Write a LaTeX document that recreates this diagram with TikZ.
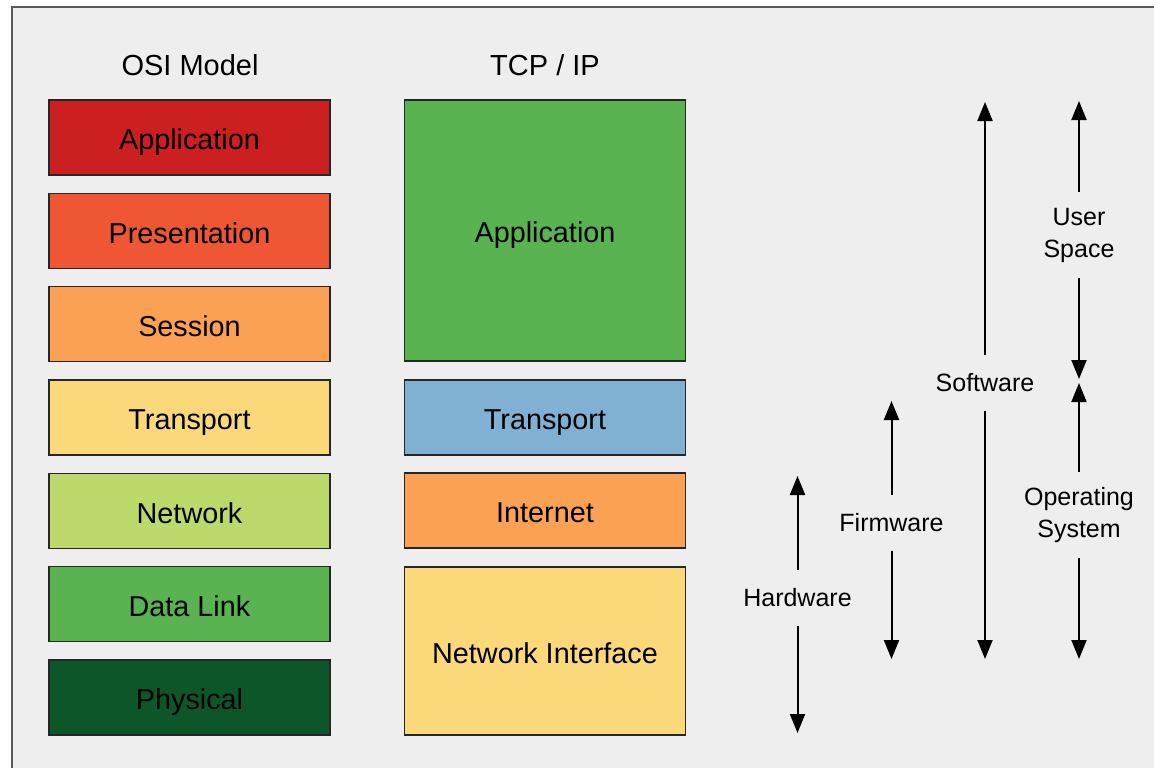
\documentclass[tikz,border=0pt]{standalone}
\usepackage{fontspec}
\setmainfont{Liberation Sans}
\usetikzlibrary{arrows.meta}

\definecolor{osiapp}{HTML}{CC1F20}
\definecolor{osipres}{HTML}{EF5634}
\definecolor{osisess}{HTML}{FBA153}
\definecolor{ositrans}{HTML}{FBD97B}
\definecolor{osinet}{HTML}{BDD86B}
\definecolor{osilink}{HTML}{5AB351}
\definecolor{osiphys}{HTML}{0C5629}
\definecolor{tcpapp}{HTML}{59B351}
\definecolor{tcptrans}{HTML}{80B1D3}
\definecolor{paper}{HTML}{EEEEEE}

\begin{document}
\begin{tikzpicture}[x=1pt,y=-1pt,
    layer/.style = {rectangle,draw=black!85,line width=1.3pt,minimum width=281pt,minimum height=75pt,outer sep=0mm,text height=24.8pt,text depth=0pt,font=\fontsize{28.8}{32}\selectfont},
    title/.style = {font=\fontsize{29}{32}\selectfont},
    side/.style = {align=center,inner sep=0pt,outer sep=0pt,font=\fontsize{25}{32}\selectfont},
    span/.style = {-{Triangle[length=19pt,width=15pt]},line width=2pt}]
\useasboundingbox (0,0) rectangle (1154,768);
\clip (0,0) rectangle (1154,768);
\fill[white] (0,0) rectangle (1154,768);
\draw[fill=paper,draw=black!65,line width=1.5pt] (12,7) rectangle (1170,790);

\node[title] (osititle) at (190,65) {OSI Model};
\node[title] (tcptitle) at (545,65) {TCP / IP};

% OSI layers
\foreach \name/\col [count=\j from 0] in {Application/osiapp,Presentation/osipres,Session/osisess,Transport/ositrans,Network/osinet,Data Link/osilink,Physical/osiphys}
    \node[layer,fill=\col] (osi\j) at (189.5,{137.5+93.33*\j}) {\name};

% TCP / IP layers
\node[layer,fill=tcpapp,minimum height=261pt] (tcpapp) at (545,230.5) {Application};
\node[layer,fill=tcptrans] (tcptrans) at (545,417.5) {Transport};
\node[layer,fill=osisess] (tcpinet) at (545,510.5) {Internet};
\node[layer,fill=ositrans,minimum height=168pt] (tcpnet) at (545,651) {Network Interface};

% spans on the right
\foreach \txt/\x/\y/\h/\up/\down [count=\k] in {Hardware/797.5/598/56/476/733,Firmware/891.5/523/56/401/659,Software/985/383/56/102/659,{User\\Space}/1079/235/86/101/379,{Operating\\System}/1079/515/86/383/659} {
    \node[side,minimum height=\h pt] (lbl\k) at (\x,\y) {\txt};
    \coordinate (up\k) at (\x,\up);
    \coordinate (dn\k) at (\x,\down);
    \draw[span] (lbl\k) -- (up\k);
    \draw[span] (lbl\k) -- (dn\k);
}
\end{tikzpicture}
\end{document}
